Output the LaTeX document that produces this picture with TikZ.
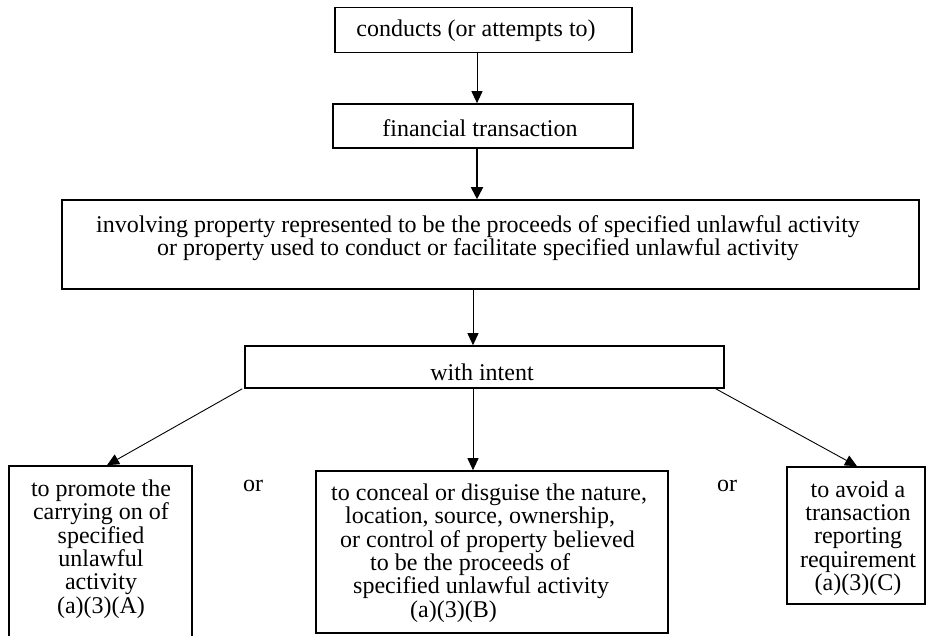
\documentclass[tikz,border=0pt]{standalone}
\usepackage{fontspec}
\setmainfont{Liberation Serif}
\usetikzlibrary{arrows.meta}
\begin{document}
\begin{tikzpicture}[x=1pt,y=-1pt,
  box/.style={draw=black, line width=1.6pt, inner sep=0pt, rectangle},
  txt/.style={inner sep=0pt, font=\fontsize{24}{23.3}\selectfont, align=center},
  arr/.style={line width=0.9pt, -{Triangle[length=12pt,width=11pt]}},
  arrthick/.style={line width=1.8pt, -{Triangle[length=12pt,width=12pt]}}]
\useasboundingbox (0,0) rectangle (926,636);
% boxes
\node[box, minimum width=297pt, minimum height=45pt] (b1) at (483.5,30) {};
\node[box, minimum width=300pt, minimum height=44pt] (b2) at (483,126) {};
\node[box, minimum width=857pt, minimum height=89pt] (b3) at (490.5,244.5) {};
\node[box, minimum width=479pt, minimum height=42pt] (intent) at (484.5,367) {};
\node[box, minimum width=183pt, minimum height=190pt] (left) at (100.5,561) {};
\node[box, minimum width=352pt, minimum height=162pt] (mid) at (492,552) {};
\node[box, minimum width=138pt, minimum height=137pt] (right) at (856,535.5) {};
% texts
\node[txt] (t1) at (476,31) {conducts (or attempts to)};
\node[txt] (t2) at (480,128) {financial transaction};
\node[txt] (t3) at (478,238) {involving property represented to be the proceeds of specified unlawful activity\\or property used to conduct or facilitate specified unlawful activity};
\node[txt] (t4) at (482,372) {with intent};
\node[txt] (tl) at (101,549) {to promote the\\carrying on of\\specified\\unlawful\\activity\\(a)(3)(A)};
\node[txt, align=left, anchor=west] (tm) at (331,553) {to conceal or disguise the nature,\\\hspace*{14pt}location, source, ownership,\\\hspace*{9pt}or control of property believed\\\hspace*{39pt}to be the proceeds of\\\hspace*{22pt}specified unlawful activity\\\hspace*{79pt}(a)(3)(B)};
\node[txt] (tr) at (858,538) {to avoid a\\transaction\\reporting\\requirement\\(a)(3)(C)};
\node[txt] (or1) at (253,486) {or};
\node[txt] (or2) at (727,486) {or};
% connectors
\draw[arr] ([xshift=-6.5pt]b1.south) -- ([xshift=-6pt]b2.north);
\draw[arrthick] ([xshift=-6pt]b2.south) -- ([xshift=-13.5pt]b3.north);
\draw[arr] ([xshift=-17.5pt]b3.south) -- ([xshift=-11.5pt]intent.north);
\draw[arr] ([xshift=-2pt]intent.south west) -- ([xshift=6.5pt]left.north);
\draw[arr] ([xshift=-11.5pt]intent.south) -- ([xshift=-19pt]mid.north);
\draw[arr] ([xshift=-9pt]intent.south east) -- ([xshift=1pt]right.north);
\end{tikzpicture}
\end{document}
